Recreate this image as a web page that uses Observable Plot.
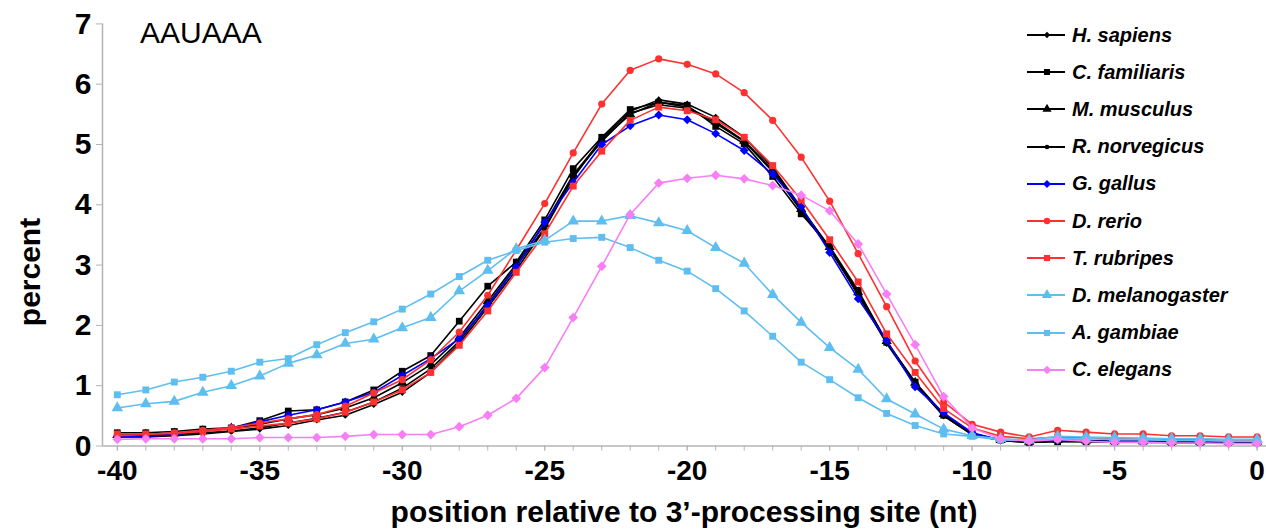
<!DOCTYPE html>
<html>
<head>
<meta charset="utf-8">
<script src="https://cdn.jsdelivr.net/npm/d3@7"></script>
<script src="https://cdn.jsdelivr.net/npm/@observablehq/plot@0.6"></script>
<style>
  html, body { margin: 0; padding: 0; background: white; }
  #wrap { position: relative; width: 1266px; height: 529px; font-family: "Liberation Sans", Arial, sans-serif; }
  #wrap svg { display: block; }
  .ylab { position: absolute; left: 30px; top: 272px; transform: translate(-50%, -50%) rotate(-90deg); font-size: 30px; font-weight: bold; line-height: 1; white-space: nowrap; }
  .xlab { position: absolute; left: 684px; top: 497px; transform: translateX(-50%); font-size: 30px; font-weight: bold; line-height: 1; white-space: nowrap; }
  .title { position: absolute; left: 140px; top: 18px; font-size: 30px; line-height: 1; white-space: nowrap; }
  .legend { position: absolute; left: 1027px; top: 0; }
  .legend .item { position: absolute; left: 0; height: 24px; display: flex; align-items: center; white-space: nowrap; }
  .legend .item span { font-size: 20px; font-weight: bold; font-style: italic; margin-left: 6px; }
</style>
</head>
<body>
<div id="wrap"></div>
<script>
// ---- data ----
const position = [-40,-39,-38,-37,-36,-35,-34,-33,-32,-31,-30,-29,-28,-27,-26,-25,-24,-23,-22,-21,-20,-19,-18,-17,-16,-15,-14,-13,-12,-11,-10,-9,-8,-7,-6,-5,-4,-3,-2,-1,0];

const hSapiens      = [0.15,0.15,0.17,0.20,0.24,0.28,0.34,0.43,0.51,0.69,0.89,1.22,1.70,2.30,2.92,3.60,4.45,5.10,5.55,5.74,5.67,5.45,5.12,4.62,3.95,3.28,2.50,1.70,1.02,0.50,0.19,0.09,0.06,0.08,0.07,0.07,0.06,0.06,0.06,0.05,0.05];
const cFamiliaris   = [0.22,0.22,0.24,0.28,0.30,0.42,0.58,0.60,0.73,0.93,1.24,1.50,2.07,2.65,3.05,3.75,4.60,5.12,5.58,5.70,5.65,5.30,5.01,4.47,3.85,3.31,2.58,1.72,1.06,0.51,0.20,0.10,0.06,0.07,0.07,0.07,0.07,0.06,0.06,0.06,0.06];
const mMusculus     = [0.18,0.19,0.21,0.25,0.29,0.36,0.45,0.52,0.63,0.80,1.05,1.35,1.80,2.40,3.02,3.68,4.50,5.08,5.50,5.70,5.62,5.38,5.06,4.58,3.93,3.30,2.55,1.74,1.05,0.53,0.21,0.10,0.07,0.10,0.09,0.08,0.08,0.07,0.07,0.07,0.07];
const rNorvegicus   = [0.16,0.17,0.19,0.22,0.25,0.30,0.38,0.46,0.56,0.73,0.96,1.28,1.74,2.35,2.98,3.62,4.48,5.05,5.52,5.66,5.60,5.35,5.05,4.55,3.90,3.26,2.52,1.72,1.03,0.50,0.19,0.09,0.06,0.09,0.08,0.07,0.07,0.06,0.06,0.06,0.06];
const gGallus       = [0.15,0.16,0.19,0.25,0.30,0.40,0.51,0.60,0.73,0.89,1.17,1.45,1.78,2.33,2.97,3.71,4.37,5.00,5.31,5.49,5.41,5.18,4.90,4.51,3.97,3.21,2.44,1.75,0.98,0.55,0.22,0.10,0.08,0.09,0.08,0.08,0.08,0.07,0.07,0.07,0.07];
const dRerio        = [0.17,0.19,0.22,0.26,0.30,0.38,0.45,0.52,0.66,0.88,1.10,1.43,1.89,2.50,3.25,4.02,4.86,5.67,6.23,6.42,6.33,6.17,5.86,5.40,4.79,4.06,3.19,2.31,1.41,0.73,0.36,0.23,0.15,0.26,0.23,0.20,0.20,0.17,0.17,0.15,0.15];
const tRubripes     = [0.20,0.20,0.21,0.24,0.28,0.33,0.38,0.45,0.56,0.73,0.93,1.22,1.67,2.24,2.88,3.52,4.31,4.89,5.40,5.62,5.56,5.41,5.12,4.65,4.08,3.42,2.72,1.86,1.22,0.62,0.30,0.16,0.12,0.15,0.13,0.12,0.12,0.11,0.11,0.10,0.10];
const dMelanogaster = [0.63,0.70,0.74,0.89,1.00,1.16,1.37,1.51,1.70,1.77,1.96,2.13,2.57,2.91,3.27,3.41,3.73,3.73,3.82,3.70,3.57,3.29,3.03,2.51,2.05,1.63,1.27,0.78,0.53,0.28,0.17,0.12,0.10,0.16,0.15,0.14,0.13,0.12,0.12,0.11,0.11];
const aGambiae      = [0.85,0.93,1.06,1.14,1.24,1.39,1.45,1.68,1.88,2.06,2.27,2.52,2.81,3.08,3.24,3.38,3.44,3.46,3.29,3.08,2.90,2.61,2.24,1.82,1.39,1.10,0.80,0.54,0.34,0.20,0.16,0.10,0.09,0.12,0.12,0.11,0.11,0.09,0.09,0.08,0.08];
const cElegans      = [0.11,0.12,0.12,0.12,0.12,0.14,0.14,0.14,0.16,0.19,0.19,0.19,0.32,0.51,0.79,1.30,2.13,2.98,3.84,4.36,4.44,4.49,4.43,4.32,4.16,3.90,3.35,2.52,1.68,0.82,0.30,0.12,0.08,0.11,0.08,0.06,0.06,0.05,0.05,0.04,0.04];

const speciesNames = ["H. sapiens","C. familiaris","M. musculus","R. norvegicus","G. gallus","D. rerio","T. rubripes","D. melanogaster","A. gambiae","C. elegans"];
const speciesValues = [hSapiens,cFamiliaris,mMusculus,rNorvegicus,gGallus,dRerio,tRubripes,dMelanogaster,aGambiae,cElegans];

const yTicks = [0,1,2,3,4,5,6,7];
const xLabelTicks = [-40,-35,-30,-25,-20,-15,-10,-5,0];
const xMinorTicks = position;
const xDomain = [-40.52, 0.33];
const yDomain = [0, 7];
const titleText = "AAUAAA";
const xLabel = "position relative to 3\u2019-processing site (nt)";
const yLabel = "percent";

// ---- styles ----
const BLACK = "#000000", BLUE = "#0000ff", RED = "#ff3030", LBLUE = "#5fbef0", PINK = "#f77ff5";
const styles = [
  {color: BLACK, symbol: "diamond2", r: 3.2},
  {color: BLACK, symbol: "square", r: 3.8},
  {color: BLACK, symbol: "triangle", r: 3.8},
  {color: BLACK, symbol: "circle", r: 2.6},
  {color: BLUE,  symbol: "diamond2", r: 4.0},
  {color: RED,   symbol: "circle", r: 3.6},
  {color: RED,   symbol: "square", r: 3.9},
  {color: LBLUE, symbol: "triangle", r: 4.3},
  {color: LBLUE, symbol: "square", r: 3.9},
  {color: PINK,  symbol: "diamond2", r: 4.4}
];

const series = speciesNames.map((name, i) => position.map((x, j) => ({species: name, x, y: speciesValues[i][j]})));

const seriesMarks = [];
series.forEach((rows, i) => {
  const s = styles[i];
  seriesMarks.push(Plot.line(rows, {x: "x", y: "y", stroke: s.color, strokeWidth: 1.6}));
  seriesMarks.push(Plot.dot(rows, {x: "x", y: "y", fill: s.color, stroke: "none", symbol: s.symbol, r: s.r}));
});

const AXIS = "#b4b4b4";
const chart = Plot.plot({
  width: 1266,
  height: 529,
  marginLeft: 102,
  marginRight: 0,
  marginTop: 23.4,
  marginBottom: 83.5,
  x: {domain: xDomain},
  y: {domain: yDomain},
  style: {fontFamily: "'Liberation Sans', Arial, sans-serif", background: "white", overflow: "visible"},
  marks: [
    Plot.ruleX([xDomain[0]], {stroke: AXIS, strokeWidth: 1.5}),
    Plot.ruleY([0], {stroke: AXIS, strokeWidth: 1.5}),
    Plot.axisY(yTicks, {tickSize: 6, tickPadding: 5, stroke: AXIS, fill: "black", fontSize: 30, fontWeight: "bold", label: null, tickFormat: d => String(d)}),
    Plot.axisX(xMinorTicks, {tickSize: 5, stroke: AXIS, tickFormat: () => "", label: null}),
    Plot.axisX(xLabelTicks, {tickSize: 5, tickPadding: 9, stroke: AXIS, fill: "black", fontSize: 28, fontWeight: "bold", label: null, tickFormat: d => String(d)}),
    ...seriesMarks
  ]
});

const wrap = document.getElementById("wrap");
wrap.appendChild(chart);

const t = document.createElement("div"); t.className = "title"; t.textContent = titleText; wrap.appendChild(t);
const yl = document.createElement("div"); yl.className = "ylab"; yl.textContent = yLabel; wrap.appendChild(yl);
const xl = document.createElement("div"); xl.className = "xlab"; xl.textContent = xLabel; wrap.appendChild(xl);

// legend
const symbolMap = {circle: d3.symbolCircle, square: d3.symbolSquare, triangle: d3.symbolTriangle, diamond2: d3.symbolDiamond2};
const legend = document.createElement("div"); legend.className = "legend"; wrap.appendChild(legend);
speciesNames.forEach((name, i) => {
  const s = styles[i];
  const item = document.createElement("div");
  item.className = "item";
  item.style.top = (23 + i * 37.2) + "px";
  const svg = d3.create("svg").attr("width", 39).attr("height", 24);
  svg.append("line").attr("x1", 0).attr("x2", 38).attr("y1", 12).attr("y2", 12).attr("stroke", s.color).attr("stroke-width", 1.8);
  svg.append("path").attr("transform", "translate(20,12)").attr("d", d3.symbol(symbolMap[s.symbol], Math.PI * s.r * s.r * 0.8)()).attr("fill", s.color);
  item.appendChild(svg.node());
  const sp = document.createElement("span"); sp.textContent = name; item.appendChild(sp);
  legend.appendChild(item);
});
</script>
</body>
</html>
